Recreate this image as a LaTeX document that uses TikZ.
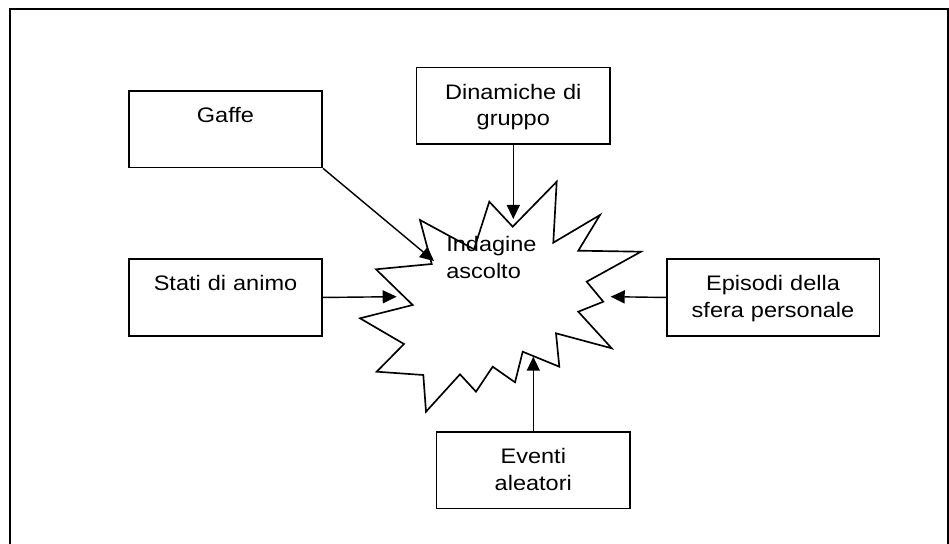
\documentclass[tikz,border=0pt]{standalone}
\usepackage{fontspec}
\setmainfont{Liberation Sans}[FakeStretch=1.12]
\usepackage{tikz}
\usetikzlibrary{arrows.meta, positioning}

\begin{document}
\begin{tikzpicture}[
        x=0.6pt, y=-0.6pt,
        box/.style={rectangle, draw=black, line width=1pt, inner sep=0pt, text width=116pt, align=center, text height=19pt, text depth=27pt, anchor=north, font=\fontsize{12.6}{16}\selectfont},
        label/.style={inner sep=0pt, align=left, anchor=base west, font=\fontsize{12.6}{16}\selectfont},
        burst/.style={draw=black, line width=1pt, line join=miter, fill=white},
        arrow/.style={draw, -{Triangle[length=8.4pt, width=7.8pt]}, line width=0.85pt, color=black},
        frame/.style={draw=black, line width=1.4pt}
    ]
        \useasboundingbox (0,0) rectangle (949,544);

        % Cornice (aperta in basso)
        \draw [frame] (10.3,544) -- (10.3,9.2) -- (947.8,9.2) -- (947.8,544);

        % Esplosione centrale
        \draw [burst] (512.7,226.7) -- (556.7,181.7) -- (553.3,242.7) -- (600,215) -- (578.3,250.7)
            -- (641,251.7) -- (586.7,281.7) -- (603.3,301.7) -- (578.3,311.7) -- (611.7,348.3)
            -- (556,333.3) -- (559.3,366.7) -- (522.7,351.7) -- (515,382.3) -- (492.7,366.7)
            -- (476,391.7) -- (460,374.3) -- (426,411.7) -- (423.3,375) -- (376.7,371.7)
            -- (404,344) -- (360,318.3) -- (412.7,305) -- (376,269.3) -- (431.7,264)
            -- (420,220) -- (474,249.3) -- (489.3,201.7) -- cycle;
        \node [label] (burst) at (446,278.3) {Indagine\\ascolto};

        % Riquadri esterni
        \node [box] (gaffe) at (225.5,90) {Gaffe};
        \node [box] (stati) at (225.5,258.3) {Stati di animo};
        \node [box] (dinamiche) at (513.3,66.7) {Dinamiche di\\gruppo};
        \node [box, text width=127.6pt] (episodi) at (773,258.3) {Episodi della\\sfera personale};
        \node [box] (eventi) at (533.3,431) {Eventi\\aleatori};

        % Punte delle frecce sul bordo
        \coordinate (tipN) at (513.3,219);
        \coordinate (tipNW) at (434,261);
        \coordinate (tipW) at (396.7,296.7);
        \coordinate (tipE) at (610.7,296.7);
        \coordinate (tipS) at (533.3,356.7);

        \draw [arrow] (dinamiche.south) -- (tipN);
        \draw [arrow] (gaffe.south east) -- (tipNW);
        \draw [arrow] (stati.east) -- (tipW);
        \draw [arrow] (episodi.west) -- (tipE);
        \draw [arrow] (eventi.north) -- (tipS);

    \end{tikzpicture}
\end{document}
